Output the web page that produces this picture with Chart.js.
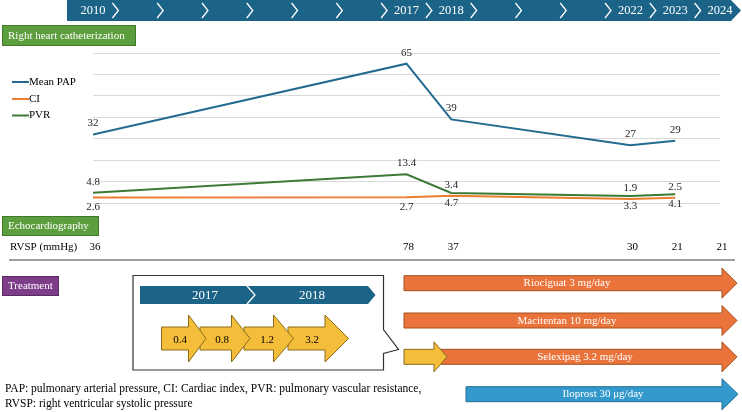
<!DOCTYPE html>
<html>
<head>
<meta charset="utf-8">
<script src="https://cdn.jsdelivr.net/npm/chart.js@4.4.1/dist/chart.umd.min.js"></script>
<style>
  html, body { margin: 0; padding: 0; background: #fff; }
  #wrap { position: relative; width: 742px; height: 412px; }
</style>
</head>
<body>
<div id="wrap"><canvas id="courseChart"></canvas></div>
<script>
// chart values
var years = [2010, 2017, 2018, 2022, 2023];
var meanPap = [32, 65, 39, 27, 29];
var ci = [2.6, 2.7, 3.4, 1.9, 2.5];
var pvr = [4.8, 13.4, 4.7, 3.3, 4.1];

var rvspYears = [2010, 2017, 2018, 2022, 2023, 2024];
var rvsp = [36, 78, 37, 30, 21, 21];

var timelineYears = [2010, 2011, 2012, 2013, 2014, 2015, 2016, 2017, 2018, 2019, 2020, 2021, 2022, 2023, 2024];
var timelineLabels = ['2010', '', '', '', '', '', '', '2017', '2018', '', '', '', '2022', '2023', '2024'];

var titrationSteps = ['0.4', '0.8', '1.2', '3.2'];
var titrationYears = ['2017', '2018'];
var drugs = ['Riociguat 3 mg/day', 'Macitentan 10 mg/day', 'Selexipag 3.2 mg/day', 'Iloprost 30 \u03bcg/day'];

var SERIF = '"Liberation Serif", "Times New Roman", serif';
var DARK_BLUE = '#1b6387';

function pts(values) {
    return values.map(function (v, i) { return { x: years[i], y: v }; });
}

function blockArrow(ctx, x0, x1, yc, bodyH, headH, headL, fill, stroke) {
    var hx = x1 - headL;
    ctx.beginPath();
    ctx.moveTo(x0, yc - bodyH / 2);
    ctx.lineTo(hx, yc - bodyH / 2);
    ctx.lineTo(hx, yc - headH / 2);
    ctx.lineTo(x1, yc);
    ctx.lineTo(hx, yc + headH / 2);
    ctx.lineTo(hx, yc + bodyH / 2);
    ctx.lineTo(x0, yc + bodyH / 2);
    ctx.closePath();
    ctx.fillStyle = fill;
    ctx.fill();
    ctx.lineWidth = 1;
    ctx.strokeStyle = stroke;
    ctx.stroke();
}

function labelBox(ctx, x, y, w, h, text, fill, stroke) {
    ctx.fillStyle = fill;
    ctx.fillRect(x, y, w, h);
    ctx.lineWidth = 1;
    ctx.strokeStyle = stroke;
    ctx.strokeRect(x + 0.5, y + 0.5, w - 1, h - 1);
    ctx.fillStyle = '#fff';
    ctx.font = '11px ' + SERIF;
    ctx.textAlign = 'left';
    ctx.textBaseline = 'middle';
    ctx.fillText(text, x + 6, y + h / 2 + 0.5);
}

function chevron(ctx, x, top, bottom, depth) {
    ctx.beginPath();
    ctx.moveTo(x, top);
    ctx.lineTo(x + depth, (top + bottom) / 2);
    ctx.lineTo(x, bottom);
    ctx.strokeStyle = '#fff';
    ctx.lineWidth = 1.3;
    ctx.stroke();
}

var decorations = {
    id: 'decorations',
    beforeDraw: function (chart) {
        var ctx = chart.ctx;
        var xs = chart.scales.x;
        ctx.save();

        // year timeline on top
        ctx.fillStyle = DARK_BLUE;
        ctx.beginPath();
        ctx.moveTo(67, 0);
        ctx.lineTo(731, 0);
        ctx.lineTo(741, 10.5);
        ctx.lineTo(731, 21);
        ctx.lineTo(67, 21);
        ctx.closePath();
        ctx.fill();
        for (var i = 0; i < timelineYears.length - 1; i++) {
            chevron(ctx, xs.getPixelForValue(timelineYears[i] + 0.5) - 3, 3, 18, 6);
        }
        ctx.fillStyle = '#fff';
        ctx.font = '12.5px ' + SERIF;
        ctx.textAlign = 'center';
        ctx.textBaseline = 'middle';
        timelineLabels.forEach(function (t, i) {
            if (t) ctx.fillText(t, xs.getPixelForValue(timelineYears[i]), 11);
        });

        // section boxes
        labelBox(ctx, 2, 25, 134, 21, 'Right heart catheterization', '#5c9e3d', '#3f7a2a');
        labelBox(ctx, 2, 216, 97, 20, 'Echocardiography', '#5c9e3d', '#3f7a2a');
        labelBox(ctx, 2, 276, 57, 20, 'Treatment', '#7d3d88', '#5a2a63');

        // RVSP row
        ctx.fillStyle = '#000';
        ctx.font = '11px ' + SERIF;
        ctx.textAlign = 'left';
        ctx.textBaseline = 'middle';
        ctx.fillText('RVSP (mmHg)', 10, 247);
        ctx.textAlign = 'center';
        rvsp.forEach(function (v, i) {
            ctx.fillText(String(v), xs.getPixelForValue(rvspYears[i]) + 2, 247);
        });

        // separator
        ctx.beginPath();
        ctx.moveTo(9, 260);
        ctx.lineTo(735, 260);
        ctx.strokeStyle = '#7f7f7f';
        ctx.lineWidth = 1.5;
        ctx.stroke();

        // callout with titration
        ctx.beginPath();
        ctx.moveTo(133, 275.5);
        ctx.lineTo(383.5, 275.5);
        ctx.lineTo(383.5, 329.5);
        ctx.lineTo(398.5, 349.5);
        ctx.lineTo(383.5, 353.5);
        ctx.lineTo(383.5, 370);
        ctx.lineTo(133, 370);
        ctx.closePath();
        ctx.fillStyle = '#fff';
        ctx.fill();
        ctx.strokeStyle = '#333';
        ctx.lineWidth = 1.2;
        ctx.stroke();

        ctx.fillStyle = DARK_BLUE;
        ctx.beginPath();
        ctx.moveTo(140, 286);
        ctx.lineTo(368, 286);
        ctx.lineTo(375.5, 295);
        ctx.lineTo(368, 304);
        ctx.lineTo(140, 304);
        ctx.closePath();
        ctx.fill();
        chevron(ctx, 247, 286, 304, 8);
        ctx.fillStyle = '#fff';
        ctx.font = '13px ' + SERIF;
        ctx.textAlign = 'center';
        ctx.fillText(titrationYears[0], 205, 295.5);
        ctx.fillText(titrationYears[1], 312, 295.5);

        var steps = [
            { x0: 288, hx: 325, x1: 348.5, lx: 312 },
            { x0: 244, hx: 273.5, x1: 293.5, lx: 267 },
            { x0: 200, hx: 231.5, x1: 250, lx: 222 },
            { x0: 161.5, hx: 188.5, x1: 206, lx: 180 }
        ];
        steps.forEach(function (s) {
            blockArrow(ctx, s.x0, s.x1, 338.5, 23, 47, s.x1 - s.hx, '#f4be3b', '#8b6a1a');
        });
        ctx.fillStyle = '#000';
        ctx.font = '11px ' + SERIF;
        steps.slice().reverse().forEach(function (s, i) {
            ctx.fillText(titrationSteps[i], s.lx, 340);
        });

        // drug arrows
        var ORANGE = '#e9733a', ORANGE_S = '#a4501f';
        blockArrow(ctx, 404, 737, 283.2, 15, 30, 15, ORANGE, ORANGE_S);
        blockArrow(ctx, 404, 737, 320.5, 15, 30, 15, ORANGE, ORANGE_S);
        blockArrow(ctx, 436, 737, 356.8, 15, 30, 15, ORANGE, ORANGE_S);
        blockArrow(ctx, 404, 447, 356.8, 15, 30, 13, '#f4be3b', '#8b6a1a');
        blockArrow(ctx, 466, 738, 394.2, 15, 31, 16, '#3399cc', '#1f6f96');
        ctx.fillStyle = '#fff';
        ctx.font = '11px ' + SERIF;
        ctx.fillText(drugs[0], 567, 283.5);
        ctx.fillText(drugs[1], 567, 321);
        ctx.fillText(drugs[2], 585, 357.5);
        ctx.fillText(drugs[3], 603, 394.5);

        // footnote
        ctx.fillStyle = '#000';
        ctx.textAlign = 'left';
        ctx.font = '11.5px ' + SERIF;
        ctx.fillText('PAP: pulmonary arterial pressure, CI: Cardiac index, PVR: pulmonary vascular resistance,', 5, 388.5);
        ctx.fillText('RVSP: right ventricular systolic pressure', 5, 403.5);

        ctx.restore();
    },
    afterDatasetsDraw: function (chart, args, opts) {
        var ctx = chart.ctx;
        ctx.save();
        ctx.font = '11px ' + SERIF;
        ctx.fillStyle = '#262626';
        ctx.textAlign = 'center';
        ctx.textBaseline = 'middle';
        chart.data.datasets.forEach(function (ds, di) {
            var meta = chart.getDatasetMeta(di);
            var place = opts.placement[di];
            meta.data.forEach(function (pt, i) {
                var dy = place[i] === 'below' ? 10 : -11;
                ctx.fillText(String(ds.data[i].y), pt.x, pt.y + dy);
            });
        });

        // legend
        var ly = [82, 99, 115.5];
        chart.data.datasets.forEach(function (ds, di) {
            ctx.beginPath();
            ctx.moveTo(12, ly[di]);
            ctx.lineTo(29, ly[di]);
            ctx.strokeStyle = ds.borderColor;
            ctx.lineWidth = 2;
            ctx.stroke();
            ctx.fillStyle = '#000';
            ctx.textAlign = 'left';
            ctx.fillText(ds.label, 29, ly[di]);
        });
        ctx.restore();
    }
};

var ctx = document.getElementById('courseChart').getContext('2d');
var courseChart = new Chart(ctx, {
    type: 'line',
    data: {
        datasets: [{
            label: 'Mean PAP',
            data: pts(meanPap),
            borderColor: '#236a8e',
            borderWidth: 2
        }, {
            label: 'CI',
            data: pts(ci),
            borderColor: '#ed7d31',
            borderWidth: 2
        }, {
            label: 'PVR',
            data: pts(pvr),
            borderColor: '#3c7a36',
            borderWidth: 2
        }]
    },
    options: {
        responsive: true,
        maintainAspectRatio: false,
        animation: false,
        layout: { padding: { left: 93, right: 22, top: 53, bottom: 209 } },
        elements: { point: { radius: 0 }, line: { tension: 0 } },
        plugins: {
            legend: { display: false },
            tooltip: { enabled: false },
            decorations: {
                placement: [
                    ['above', 'above', 'above', 'above', 'above'],
                    ['below', 'below', 'above', 'above', 'above'],
                    ['above', 'above', 'below', 'below', 'below']
                ]
            }
        },
        scales: {
            x: { type: 'linear', min: 2010, max: 2024, display: false },
            y: {
                min: 0,
                max: 70,
                ticks: { stepSize: 10, display: false },
                grid: { color: '#d9d9d9', drawTicks: false },
                border: { display: false },
                afterFit: function (scale) { scale.width = 0; }
            }
        }
    },
    plugins: [decorations]
});
</script>
</body>
</html>
